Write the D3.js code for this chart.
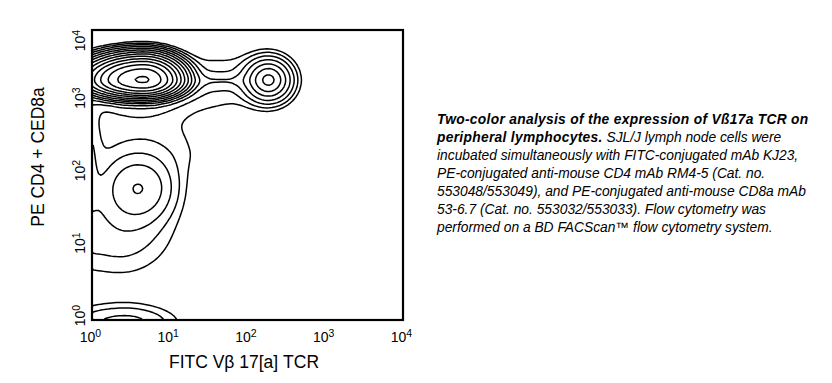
<!DOCTYPE html>
<html><head><meta charset="utf-8">
<script src="https://cdn.jsdelivr.net/npm/d3@7"></script>
<style>body{margin:0;background:#fff;} svg{display:block;font-family:"Liberation Sans",Arial,sans-serif;}</style>
</head><body><svg id="c" width="832" height="383"></svg>
<script>
// ---- data ----
const xTickValues = [1, 10, 100, 1000, 10000];
const yTickValues = [1, 10, 100, 1000, 10000];
const tickExponents = ["0", "1", "2", "3", "4"];
// cell populations (log10 decades): centre, spreads (left/right, down/up), peak density, kernel shape
const popNames  = ["CD4/CD8+ Vβ17− core", "CD4/CD8+ halo", "CD4/CD8+ Vβ17+", "bridge ridge", "bridge base",
                   "CD4−CD8−", "axis edge", "valley", "low tail", "debris"];
const popCx     = [0.66, 0.60, 2.27, 1.65, 1.65, 0.60, -0.05, 0.70, 0.35, 0.42];
const popCy     = [3.31, 3.20, 3.31, 3.30, 3.30, 1.82, 2.30, 2.35, 1.25, -0.05];
const popSxL    = [0.30, 0.50, 0.117,0.35, 0.35, 0.27, 0.10, 0.80, 0.60, 0.50];
const popSxR    = [0.207,0.40, 0.117,0.35, 0.35, 0.27, 0.10, 0.60, 0.49, 0.43];
const popSyD    = [0.10, 0.22, 0.117,0.06, 0.28, 0.27, 0.60, 0.30, 0.45, 0.17];
const popSyU    = [0.14, 0.25, 0.117,0.06, 0.28, 0.26, 0.60, 0.50, 0.50, 0.17];
const popPeak   = [1.05, 0.004, 0.030,0.0012,0.0015,0.0072,0.0022,0.0014,0.0024,0.0035];
const popShape  = [2, 2, 1.5, 2, 2, 2, 2, 2, 2, 2];
const levels    = [0.001, 0.0017, 0.0029, 0.0049, 0.0084, 0.014, 0.024, 0.041, 0.07, 0.12, 0.2, 0.34, 0.58, 0.99];
const xLabel = "FITC Vβ 17[a] TCR";
const yLabel = "PE CD4 + CED8a";
const captionBold = "Two-color analysis of the expression of Vß17a TCR on";
const captionBold2 = "peripheral lymphocytes.";
const captionLines = [
  " SJL/J lymph node cells were",
  "incubated simultaneously with FITC-conjugated mAb KJ23,",
  "PE-conjugated anti-mouse CD4 mAb RM4-5 (Cat. no.",
  "553048/553049), and PE-conjugated anti-mouse CD8a mAb",
  "53-6.7 (Cat. no. 553032/553033). Flow cytometry was",
  "performed on a BD FACScan™ flow cytometry system."
];

// ---- layout ----
const svg = d3.select("#c");
const P = {left: 92, right: 403, top: 30, bottom: 320};
const x = d3.scaleLog().domain([1, 1e4]).range([P.left, P.right]);
const y = d3.scaleLog().domain([1, 1e4]).range([P.bottom, P.top]);
const D0 = Math.log10(x.domain()[0]), D1 = Math.log10(x.domain()[1]);

// density grid
const N = 120;
const grid = new Float64Array(N * N);
for (let j = 0; j < N; j++) {
  const ly = D1 - (j + 0.5) / N * (D1 - D0);
  for (let i = 0; i < N; i++) {
    const lx = D0 + (i + 0.5) / N * (D1 - D0);
    let s = 0;
    for (let k = 0; k < popCx.length; k++) {
      const dx = lx - popCx[k], dy = ly - popCy[k];
      const sx = dx < 0 ? popSxL[k] : popSxR[k];
      const sy = dy < 0 ? popSyD[k] : popSyU[k];
      const r = Math.sqrt((dx / sx) ** 2 + (dy / sy) ** 2);
      s += popPeak[k] * Math.exp(-0.5 * Math.pow(r, popShape[k]));
    }
    grid[i + j * N] = s;
  }
}
const contours = d3.contours().size([N, N]).thresholds(levels)(grid);
const proj = d3.geoTransform({
  point: function(gx, gy) {
    this.stream.point(x(Math.pow(10, D0 + gx / N * (D1 - D0))), y(Math.pow(10, D1 - gy / N * (D1 - D0))));
  }
});
const path = d3.geoPath(proj);

svg.append("clipPath").attr("id", "clip").append("rect")
  .attr("x", P.left).attr("y", P.top).attr("width", P.right - P.left).attr("height", P.bottom - P.top);

svg.append("g").attr("clip-path", "url(#clip)")
  .selectAll("path").data(contours).join("path")
  .attr("d", path).attr("fill", "none").attr("stroke", "#000").attr("stroke-width", 1.5)
  .attr("stroke-linejoin", "round");

svg.append("rect").attr("x", P.left).attr("y", P.top)
  .attr("width", P.right - P.left).attr("height", P.bottom - P.top)
  .attr("fill", "none").attr("stroke", "#000").attr("stroke-width", 2.2);

// axes
function supLabel(sel, exps) {
  sel.each(function(d, i) {
    const t = d3.select(this).text(null);
    t.append("tspan").text("10");
    t.append("tspan").attr("dy", "-0.45em").attr("font-size", "10.5px").text(exps[i]);
  });
}
const gx = svg.append("g").attr("transform", `translate(0,${P.bottom})`)
  .call(d3.axisBottom(x).tickValues(xTickValues).tickSize(0));
gx.select(".domain").remove();
gx.selectAll("text").attr("y", 22).attr("dy", 0).attr("dx", -2)
  .attr("font-size", "14px").attr("font-family", "Liberation Sans, Arial, sans-serif").attr("fill", "#000")
  .call(supLabel, tickExponents);

const gy = svg.append("g").attr("transform", `translate(${P.left},0)`)
  .call(d3.axisLeft(y).tickValues(yTickValues).tickSize(0));
gy.select(".domain").remove();
gy.selectAll("text").attr("x", 0).attr("dy", 0).attr("text-anchor", "middle")
  .attr("transform", d => `translate(-7,${d === 10000 ? 10 : -5}) rotate(-90)`)
  .attr("font-size", "14px").attr("font-family", "Liberation Sans, Arial, sans-serif").attr("fill", "#000")
  .call(supLabel, tickExponents);

svg.append("text").attr("x", 244).attr("y", 368).attr("text-anchor", "middle")
  .attr("font-size", "17.5px").text(xLabel);
svg.append("text").attr("transform", "translate(44,157) rotate(-90)").attr("text-anchor", "middle")
  .attr("font-size", "17.5px").text(yLabel);

// caption
const cap = svg.append("g").attr("font-size", "13.8px").attr("font-style", "italic").attr("fill", "#000");
cap.append("text").attr("x", 437).attr("y", 124).attr("font-weight", "bold")
  .attr("letter-spacing", "0.3px").text(captionBold);
const l2 = cap.append("text").attr("x", 437).attr("y", 142);
l2.append("tspan").attr("font-weight", "bold").attr("letter-spacing", "0.3px").text(captionBold2);
l2.append("tspan").attr("letter-spacing", "0px").text(captionLines[0]);
captionLines.slice(1).forEach((s, i) => {
  cap.append("text").attr("x", 437).attr("y", 160 + i * 18).text(s);
});
</script></body></html>
